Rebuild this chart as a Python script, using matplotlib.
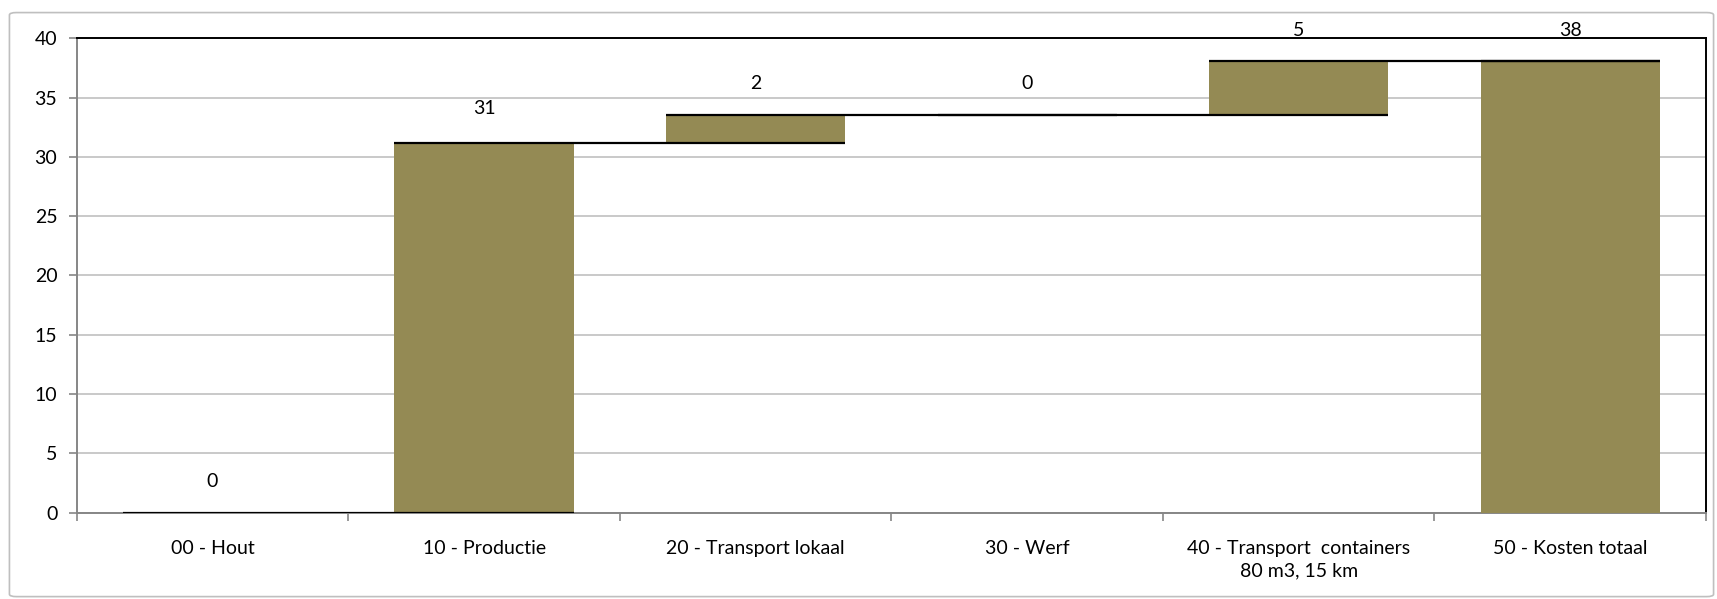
import numpy as np
import matplotlib
matplotlib.use("Agg")
import matplotlib.pyplot as plt
from matplotlib.patches import FancyBboxPatch

# Kosten per stap (waterfall), laatste is het totaal
categories = ["00 - Hout", "10 - Productie", "20 - Transport lokaal", "30 - Werf",
              "40 - Transport  containers\n80 m3, 15 km", "50 - Kosten totaal"]
steps = [0.0, 31.2, 2.35, 0.0, 4.55]
total = 38.1

plt.rcParams['font.family'] = ['Lato', 'DejaVu Sans']

fig = plt.figure(figsize=(17.17, 5.99), dpi=100)
ax = fig.add_axes([0.0447, 0.1442, 0.9489, 0.7918])

# outer chart border
fig.patches.append(FancyBboxPatch((0.0055, 0.004), 0.9925, 0.975, boxstyle="round,pad=0,rounding_size=0.004",
                                  transform=fig.transFigure, fill=False, ec="#bfbfbf", lw=1.2))

x = np.arange(len(categories))
vals = steps + [total]
tops = np.cumsum(steps).tolist() + [total]
bases = [t - v for t, v in zip(tops, vals)]
bar_w = 0.66
color = "#948a54"

ax.bar(x, vals, bottom=bases, width=bar_w, color=color, zorder=3)

# connector lines: top of each bar to the right edge of the next bar
for i in range(len(x)):
    x0 = x[i] - bar_w / 2
    x1 = x[i + 1] + bar_w / 2 if i + 1 < len(x) else x[i] + bar_w / 2
    ax.plot([x0, x1], [tops[i], tops[i]], color="black", lw=1.6, zorder=4, solid_capstyle="butt")
    off = 2.9 if i == 1 else 2.6
    ax.text(x[i], tops[i] + off, f"{vals[i]:.0f}", ha="center", va="center", fontsize=14, zorder=5)

ax.set_xlim(-0.5, len(x) - 0.5)
ax.set_ylim(0, 40)
ax.set_yticks(np.arange(0, 41, 5))
ax.set_xticks(x)
ax.set_xticklabels(categories, fontsize=14, linespacing=1.35)
ax.set_xticks(np.arange(-0.5, len(x), 1), minor=True)
ax.tick_params(axis="x", which="major", length=0, pad=20)
ax.tick_params(axis="x", which="minor", length=6, color="#868686", width=1.2)
ax.tick_params(axis="y", length=6, color="#868686", width=1.2, labelsize=14, pad=8)
ax.yaxis.grid(True, color="#c0c0c0", lw=1.2, zorder=0)
ax.set_axisbelow(True)

for s in ["left", "bottom"]:
    ax.spines[s].set_color("#868686")
    ax.spines[s].set_linewidth(1.4)
for s in ["top", "right"]:
    ax.spines[s].set_color("black")
    ax.spines[s].set_linewidth(1.4)

fig.savefig("out.png", dpi=100)
